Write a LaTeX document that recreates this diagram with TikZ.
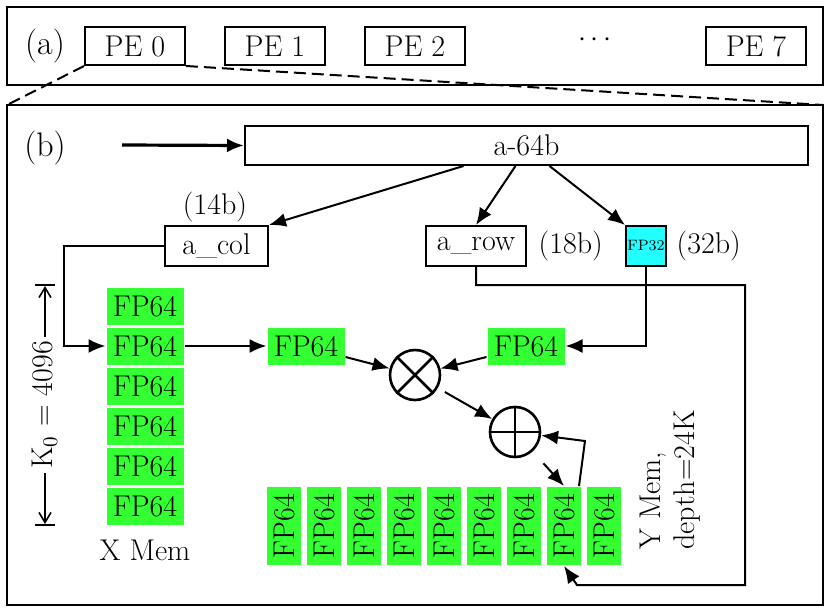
\documentclass[tikz,border=0pt]{standalone}
\usepackage{tikz}
\usetikzlibrary{arrows.meta, positioning, calc}

\definecolor{memgreen}{RGB}{51,255,51}
\definecolor{fpcyan}{RGB}{34,255,255}

\begin{document}
\begin{tikzpicture}[
  x=0.5pt, y=-0.5pt, >={Latex[length=8.5pt,width=7pt]}, line width=1pt,
  font=\fontsize{15}{17}\selectfont,
  pebox/.style  = {draw, rectangle, minimum width=50pt, minimum height=19pt, inner sep=0pt},
  regbox/.style = {draw, rectangle, minimum height=20pt, inner sep=0pt},
  fpcell/.style = {fill=memgreen, rectangle, minimum width=38.5pt, minimum height=18.5pt, inner sep=0pt},
  ycell/.style  = {fill=memgreen, rectangle, rotate=90, minimum width=39pt, minimum height=17pt, inner sep=0pt},
  sum/.style    = {draw, circle, line width=1.3pt, inner sep=0pt, minimum size=25pt},
]
  \useasboundingbox (0,0) rectangle (830,610);

  % (a) row of PEs
  \draw[line width=1.2pt] (7,7) rectangle (823,85);
  \node[font=\fontsize{17}{19}\selectfont] (la) at (45,46) {(a)};
  \foreach \i in {0,1,2}
    \node[pebox] (pPE\i) at (135+140*\i,46) {PE \i};
  \node (pdots) at (595,40) {$\cdots$};
  \node[pebox] (pPE7) at (756,46) {PE 7};

  % (b) one PE
  \coordinate (bTL) at (7,105);
  \coordinate (bTR) at (823,105);
  \draw[line width=1.2pt] (bTL) rectangle (823,605);
  \draw[dashed, dash pattern=on 6pt off 3pt] (pPE0.south west) -- (bTL);
  \draw[dashed, dash pattern=on 6pt off 3pt] (pPE0.south east) -- (bTR);
  \node[font=\fontsize{17}{19}\selectfont] (lb) at (45,148) {(b)};

  \node[regbox, minimum width=281.5pt, minimum height=19.5pt] (bA64) at (526.5,145.5) {a-64b};
  \coordinate (bin) at (122,145);
  \draw[->, line width=1.6pt] (bin) -- (bA64.west);

  \node[regbox, minimum width=51.5pt] (bCol) at (216.5,246) {a\_col};
  \node (lCol) at (215,207) {(14b)};
  \node[regbox, minimum width=50pt]   (bRow) at (476,246) {a\_row};
  \node[right=2pt of bRow] (lRow) {(18b)};
  \node[regbox, fill=fpcyan, minimum width=20pt, font=\fontsize{7.5}{8}\selectfont] (bF32) at (646,246) {FP32};
  \node[right=1pt of bF32] (lF32) {(32b)};

  \draw[->] ($(bA64.south)+(-63,0)$) -- (bCol.north east);
  \draw[->] ($(bA64.south)+(-11,0)$) -- (bRow.north);
  \draw[->] ($(bA64.south)+(23,0)$)  -- (bF32.north west);

  % X Mem
  \foreach \i in {1,...,6}
    \node[fpcell] (bX\i) at (145,266+40*\i) {FP64};
  \node (lX) at (145,550) {X Mem};

  % K0 dimension
  \draw[line width=0.8pt] (35,285) -- (55,285);
  \draw[line width=0.8pt] (35,525) -- (55,525);
  \draw[{Straight Barb[length=5pt,width=6pt]}-{Straight Barb[length=5pt,width=6pt]}, line width=0.8pt]
    (45,286) -- node[fill=white, rotate=90, inner sep=2pt] {K\textsubscript{0} = 4096} (45,524);

  \draw[->] (bCol.west) -- ++(-100,0) |- (bX2.west);

  % operands and units
  \node[fpcell] (bFl) at (306,346) {FP64};
  \node[fpcell] (bFr) at (526,346) {FP64};
  \draw[->] (bX2.east) -- (bFl.west);
  \draw[->] (bF32.south) |- (bFr.east);

  \node[sum] (bMul) at (415,375) {};
  \draw[line width=1.3pt] (bMul.north east) -- (bMul.south west) (bMul.north west) -- (bMul.south east);
  \node[sum] (bAdd) at (515,432) {};
  \draw[line width=1.3pt] (bAdd.north) -- (bAdd.south) (bAdd.west) -- (bAdd.east);

  \draw[->] ([yshift=-5.5pt]bFl.east) -- (bMul);
  \draw[->] ([yshift=-5.5pt]bFr.west) -- (bMul);
  \draw[->, shorten <=4pt] (bMul) -- (bAdd);

  % Y Mem (rotated cells: east is the top, west the bottom)
  \foreach \i in {1,...,9}
    \node[ycell] (bY\i) at (244+40*\i,526) {FP64};
  \node[rotate=90, align=left] (lY) at (670,480) {Y Mem,\\depth=24K};

  \draw[->, shorten <=8pt] (bAdd) -- (bY8.east);
  \draw[->] ($(bY8.east)+(15,0)$) -- ++(6,-45) -- (bAdd);

  \coordinate (bRr) at (745,285);
  \coordinate (bRb) at (745,585);
  \draw[->] (bRow.south) |- (bRr) -- (bRb) -- ++(-168,0) -- (bY8.west);
\end{tikzpicture}
\end{document}
